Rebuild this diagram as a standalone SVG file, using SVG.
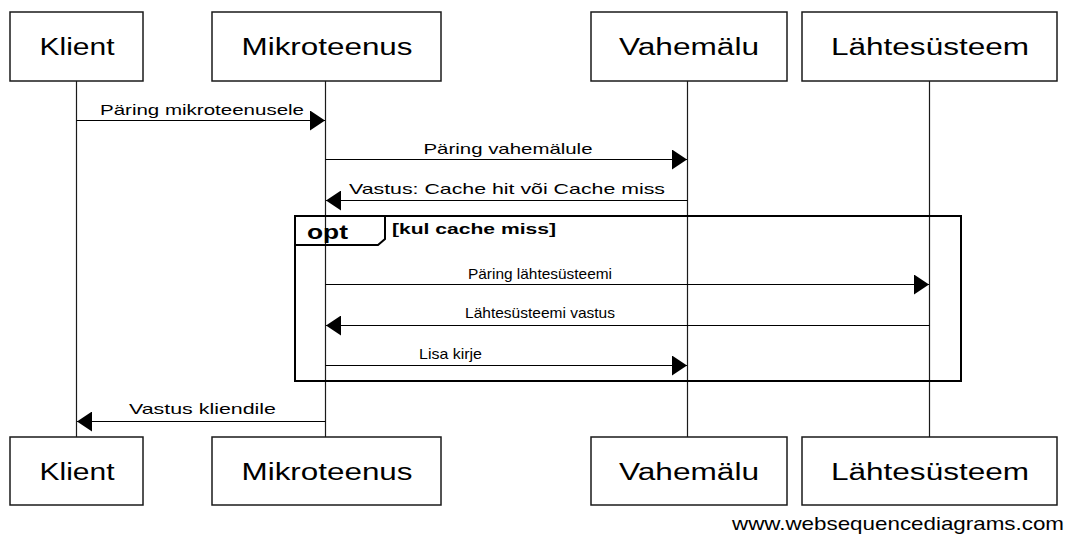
<svg xmlns="http://www.w3.org/2000/svg" width="1068" height="536" viewBox="0 0 1068 536">
  <style>
    .box { fill: #ffffff; stroke: #1a1a1a; stroke-width: 1.5; }
    .life { stroke: #1a1a1a; stroke-width: 1.2; fill: none; }
    .msg { stroke: #000000; stroke-width: 1; fill: none; marker-end: url(#head); }
    .pname { font-family: "Liberation Sans", Arial, sans-serif; font-size: 23px; fill: #000000; text-anchor: middle; }
    .mlabel { font-family: "Liberation Sans", Arial, sans-serif; font-size: 15px; fill: #000000; text-anchor: middle; }
    .frame { fill: none; stroke: #000000; stroke-width: 2; }
    .opt { font-family: "Liberation Sans", Arial, sans-serif; font-size: 20px; font-weight: bold; fill: #000000; }
    .cond { font-family: "Liberation Sans", Arial, sans-serif; font-size: 15px; font-weight: bold; fill: #000000; }
    .mark { font-family: "Liberation Sans", Arial, sans-serif; font-size: 19px; fill: #000000; }
  </style>
  <defs>
    <marker id="head" markerUnits="userSpaceOnUse" markerWidth="15" markerHeight="20" refX="15" refY="10" orient="auto">
      <path d="M0,0 L15,10 L0,20 Z" fill="#000000"/>
    </marker>
  </defs>
  <rect width="1068" height="536" fill="#ffffff"/>

  <!-- lifelines -->
  <g id="lifelines">
    <line class="life" x1="76.5" y1="81" x2="76.5" y2="437"/>
    <line class="life" x1="325.5" y1="81" x2="325.5" y2="437"/>
    <line class="life" x1="687.5" y1="81" x2="687.5" y2="437"/>
    <line class="life" x1="929.5" y1="81" x2="929.5" y2="437"/>
  </g>

  <!-- opt fragment -->
  <g id="opt-frame">
    <rect class="frame" x="295" y="216" width="666" height="165"/>
    <path class="frame" d="M295,216 L385,216 L385,239 L378,245 L295,245"/>
    <text class="opt" x="307" y="239" textLength="41" lengthAdjust="spacingAndGlyphs">opt</text>
    <text class="cond" x="392" y="234" textLength="164" lengthAdjust="spacingAndGlyphs">[kul cache miss]</text>
  </g>

  <!-- participants (top) -->
  <g id="klient-top">
    <rect class="box" x="10" y="12" width="133" height="69"/>
    <text class="pname" x="77" y="55" textLength="75" lengthAdjust="spacingAndGlyphs">Klient</text>
  </g>
  <g id="mikroteenus-top">
    <rect class="box" x="212" y="12" width="229" height="69"/>
    <text class="pname" x="327" y="55" textLength="171" lengthAdjust="spacingAndGlyphs">Mikroteenus</text>
  </g>
  <g id="vahemalu-top">
    <rect class="box" x="591" y="12" width="196" height="69"/>
    <text class="pname" x="689" y="55" textLength="140" lengthAdjust="spacingAndGlyphs">Vahemälu</text>
  </g>
  <g id="lahtesusteem-top">
    <rect class="box" x="802" y="12" width="255" height="69"/>
    <text class="pname" x="930" y="55" textLength="198" lengthAdjust="spacingAndGlyphs">Lähtesüsteem</text>
  </g>

  <!-- participants (bottom) -->
  <g id="klient-bottom">
    <rect class="box" x="10" y="437" width="133" height="68"/>
    <text class="pname" x="77" y="480" textLength="75" lengthAdjust="spacingAndGlyphs">Klient</text>
  </g>
  <g id="mikroteenus-bottom">
    <rect class="box" x="212" y="437" width="229" height="68"/>
    <text class="pname" x="327" y="480" textLength="171" lengthAdjust="spacingAndGlyphs">Mikroteenus</text>
  </g>
  <g id="vahemalu-bottom">
    <rect class="box" x="591" y="437" width="196" height="68"/>
    <text class="pname" x="689" y="480" textLength="140" lengthAdjust="spacingAndGlyphs">Vahemälu</text>
  </g>
  <g id="lahtesusteem-bottom">
    <rect class="box" x="802" y="437" width="255" height="68"/>
    <text class="pname" x="930" y="480" textLength="198" lengthAdjust="spacingAndGlyphs">Lähtesüsteem</text>
  </g>

  <!-- messages -->
  <g id="messages">
    <line class="msg" x1="76.5" y1="120.5" x2="325" y2="120.5"/>
    <text class="mlabel" x="202" y="115" textLength="204" lengthAdjust="spacingAndGlyphs">Päring mikroteenusele</text>

    <line class="msg" x1="325.5" y1="159.5" x2="687" y2="159.5"/>
    <text class="mlabel" x="508" y="154" textLength="169" lengthAdjust="spacingAndGlyphs">Päring vahemälule</text>

    <line class="msg" x1="687.5" y1="200.5" x2="326" y2="200.5"/>
    <text class="mlabel" x="507" y="194" textLength="316" lengthAdjust="spacingAndGlyphs">Vastus: Cache hit või Cache miss</text>

    <line class="msg" x1="325.5" y1="284.5" x2="929" y2="284.5"/>
    <text class="mlabel" x="540" y="279" textLength="144" lengthAdjust="spacingAndGlyphs">Päring lähtesüsteemi</text>

    <line class="msg" x1="929.5" y1="325.5" x2="326" y2="325.5"/>
    <text class="mlabel" x="540" y="318" textLength="150" lengthAdjust="spacingAndGlyphs">Lähtesüsteemi vastus</text>

    <line class="msg" x1="325.5" y1="365.5" x2="687" y2="365.5"/>
    <text class="mlabel" x="450.5" y="359" textLength="63" lengthAdjust="spacingAndGlyphs">Lisa kirje</text>

    <line class="msg" x1="325.5" y1="421.5" x2="77" y2="421.5"/>
    <text class="mlabel" x="202.5" y="414" textLength="147" lengthAdjust="spacingAndGlyphs">Vastus kliendile</text>
  </g>

  <text class="mark" x="732" y="530" textLength="332" lengthAdjust="spacingAndGlyphs">www.websequencediagrams.com</text>
</svg>
